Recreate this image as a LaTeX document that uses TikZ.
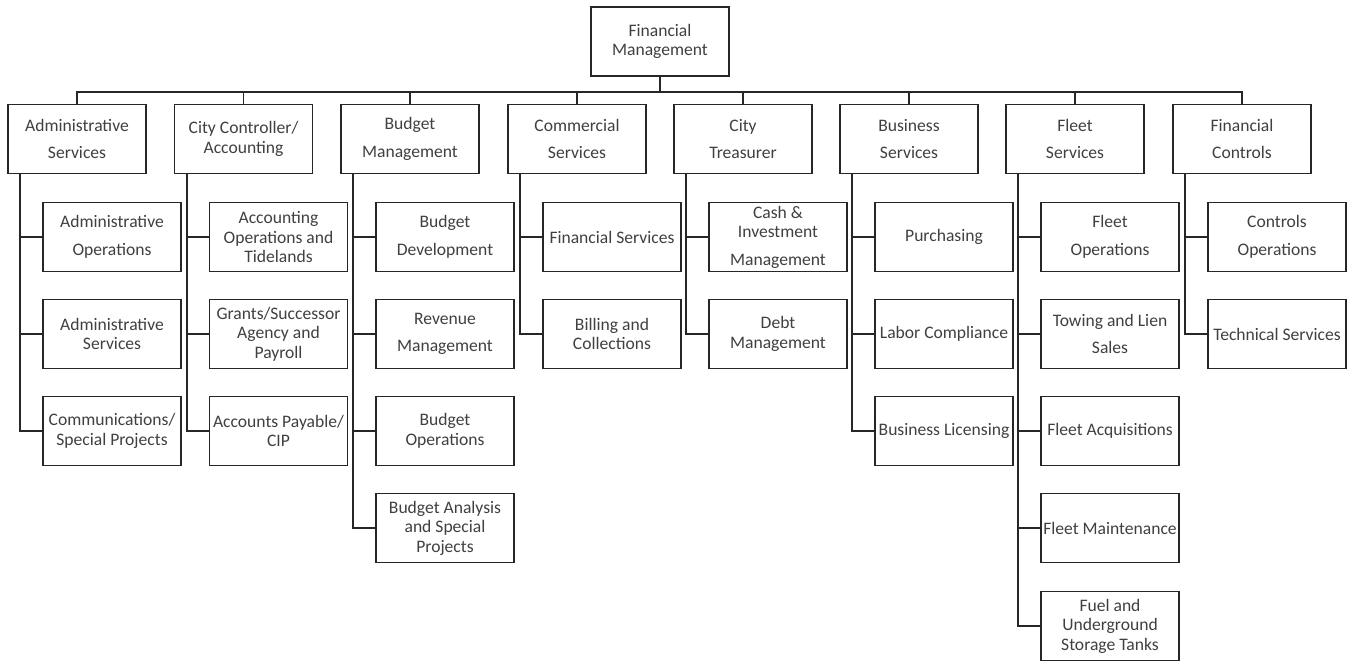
\documentclass[tikz,border=0pt]{standalone}
\usepackage{fontspec}
\setmainfont{Carlito}
\usepackage{xcolor}
\definecolor{boxline}{HTML}{262626}
\definecolor{boxtext}{HTML}{404040}
\usepackage{tikz}
\usetikzlibrary{positioning}

\begin{document}
\begin{tikzpicture}[
  x=0.03cm, y=-0.03cm,
  unit/.style={
    draw=boxline, fill=white, line width=1.6pt,
    minimum width=4.14cm, minimum height=2.07cm,
    align=center, text=boxtext, inner sep=0pt,
    font=\fontsize{15}{16.6}\selectfont
  },
  link/.style={draw=boxline, line width=1.6pt}
]
\useasboundingbox (0,0) rectangle (1353,661);

% ---- Direction ----
\node[unit] (fm) at (660, 41.5) {Financial\\Management};

% ---- Divisions ----
\node[unit] (adm) at (77, 139)   {Administrative\\[6.8pt]Services};
\node[unit] (ctl) at (243.5, 139) {City Controller/\\Accounting};
\node[unit] (bud) at (410, 139)  {Budget\\[6.8pt]Management};
\node[unit] (com) at (577, 139)  {Commercial\\[6.8pt]Services};
\node[unit] (trs) at (743, 139)  {City\\[6.8pt]Treasurer};
\node[unit] (bsv) at (909, 139)  {Business\\[6.8pt]Services};
\node[unit] (flt) at (1075, 139) {Fleet\\[6.8pt]Services};
\node[unit] (fct) at (1242, 139) {Financial\\[6.8pt]Controls};

% ---- Administrative Services ----
\node[unit] (admops) at (112, 237) {Administrative\\[6.8pt]Operations};
\node[unit] (admsvc) at (112, 334) {Administrative\\Services};
\node[unit] (comm)   at (112, 431) {Communications/\\Special Projects};

% ---- City Controller ----
\node[unit] (actops) at (278.5, 237) {Accounting\\Operations and\\Tidelands};
\node[unit] (grants) at (278.5, 334) {Grants/Successor\\Agency and\\Payroll};
\node[unit] (acpay)  at (278.5, 431) {Accounts Payable/\\CIP};

% ---- Budget Management ----
\node[unit] (bdev) at (445, 237) {Budget\\[6.8pt]Development};
\node[unit] (revm) at (445, 334) {Revenue\\[6.8pt]Management};
\node[unit] (bops) at (445, 431) {Budget\\Operations};
\node[unit] (bana) at (445, 528) {Budget Analysis\\and Special\\Projects};

% ---- Commercial Services ----
\node[unit] (finsvc) at (612, 237) {Financial Services};
\node[unit] (billc)  at (612, 334) {Billing and\\Collections};

% ---- City Treasurer ----
\node[unit] (cashm) at (778, 237) {Cash \&\\Investment\\[6.8pt]Management};
\node[unit] (debtm) at (778, 334) {Debt\\Management};

% ---- Business Services ----
\node[unit] (purch) at (944, 237) {Purchasing};
\node[unit] (labor) at (944, 334) {Labor Compliance};
\node[unit] (blic)  at (944, 431) {Business Licensing};

% ---- Fleet Services ----
\node[unit] (fops) at (1110, 237) {Fleet\\[6.8pt]Operations};
\node[unit] (tow)  at (1110, 334) {Towing and Lien\\[6.8pt]Sales};
\node[unit] (facq) at (1110, 431) {Fleet Acquisitions};
\node[unit] (fmnt) at (1110, 528) {Fleet Maintenance};
\node[unit] (fuel) at (1110, 626) {Fuel and\\Underground\\Storage Tanks};

% ---- Financial Controls ----
\node[unit] (cops) at (1277, 237) {Controls\\[6.8pt]Operations};
\node[unit] (tech) at (1277, 334) {Technical Services};

% Bus vers les divisions
\draw[link] (fm.south) -- ++(0,15) -| (adm.north);
\draw[link] (fm.south) -- ++(0,15) -| (ctl.north);
\draw[link] (fm.south) -- ++(0,15) -| (bud.north);
\draw[link] (fm.south) -- ++(0,15) -| (com.north);
\draw[link] (fm.south) -- ++(0,15) -| (trs.north);
\draw[link] (fm.south) -- ++(0,15) -| (bsv.north);
\draw[link] (fm.south) -- ++(0,15) -| (flt.north);
\draw[link] (fm.south) -- ++(0,15) -| (fct.north);

% Branches vers les services
\draw[link] ([xshift=4mm]adm.south west) |- (admops.west)
  ([xshift=4mm]adm.south west) |- (admsvc.west)
  ([xshift=4mm]adm.south west) |- (comm.west);
\draw[link] ([xshift=4mm]ctl.south west) |- (actops.west)
  ([xshift=4mm]ctl.south west) |- (grants.west)
  ([xshift=4mm]ctl.south west) |- (acpay.west);
\draw[link] ([xshift=4mm]bud.south west) |- (bdev.west)
  ([xshift=4mm]bud.south west) |- (revm.west)
  ([xshift=4mm]bud.south west) |- (bops.west)
  ([xshift=4mm]bud.south west) |- (bana.west);
\draw[link] ([xshift=4mm]com.south west) |- (finsvc.west)
  ([xshift=4mm]com.south west) |- (billc.west);
\draw[link] ([xshift=4mm]trs.south west) |- (cashm.west)
  ([xshift=4mm]trs.south west) |- (debtm.west);
\draw[link] ([xshift=4mm]bsv.south west) |- (purch.west)
  ([xshift=4mm]bsv.south west) |- (labor.west)
  ([xshift=4mm]bsv.south west) |- (blic.west);
\draw[link] ([xshift=4mm]flt.south west) |- (fops.west)
  ([xshift=4mm]flt.south west) |- (tow.west)
  ([xshift=4mm]flt.south west) |- (facq.west)
  ([xshift=4mm]flt.south west) |- (fmnt.west)
  ([xshift=4mm]flt.south west) |- (fuel.west);
\draw[link] ([xshift=4mm]fct.south west) |- (cops.west)
  ([xshift=4mm]fct.south west) |- (tech.west);

\end{tikzpicture}
\end{document}
